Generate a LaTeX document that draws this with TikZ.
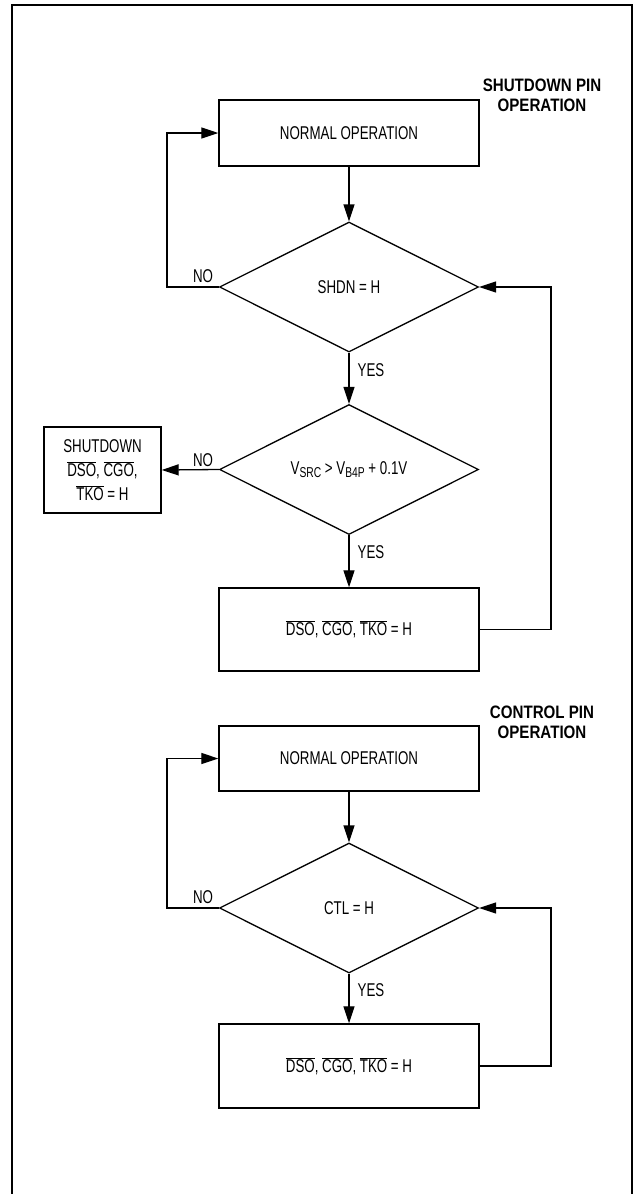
\documentclass[tikz,border=0pt]{standalone}
\usepackage{fontspec}
\setmainfont{Liberation Sans}[FakeStretch=0.72]
\newfontfamily\titlefont{Liberation Sans}[FakeStretch=0.84]
\usetikzlibrary{shapes.geometric,arrows.meta}
\newcommand\ovl[1]{$\overline{\hbox{#1}}$}
\newcommand\mysub[1]{\raisebox{-0.13em}{\fontsize{14.3}{14.3}\selectfont #1}}
\begin{document}
\begin{tikzpicture}[x=1pt,y=-1pt,
  every node/.style={font=\fontsize{18.5}{24}\selectfont, inner sep=0pt},
  proc/.style={draw, line width=1.4pt, minimum width=260pt, align=center},
  dec/.style={draw, diamond, line width=1.3pt, minimum width=259pt, minimum height=130pt},
  arr/.style={-{Triangle[length=17pt,width=11pt]}, line width=1.3pt},
  ttl/.style={font=\titlefont\bfseries\fontsize{18}{20}\selectfont, align=center}]
\useasboundingbox (0,0) rectangle (644,1194);
\draw[line width=2pt] (12,1210) -- (12,5) -- (632,5) -- (632,1210);

\coordinate (lx) at (167,0);
\coordinate (rx) at (551,0);

% Shutdown pin operation
\node[ttl] (t1) at (542,95) {SHUTDOWN PIN\\OPERATION};
\node[proc, minimum height=66pt] (b1) at (349,133) {NORMAL OPERATION};
\node[dec] (d1) at (349,287) {\makebox[0pt]{SHDN = H}};
\node[dec] (d2) at (349,469.5) {\makebox[0pt]{V\mysub{SRC} > V\mysub{B4P} + 0.1V}};
\node[proc, minimum width=117pt, minimum height=86pt] (sd) at (102.5,470) {SHUTDOWN\\\ovl{DSO}, \ovl{CGO},\\\ovl{TKO} = H};
\node[proc, minimum height=83pt] (b3) at (349,629.5) {\ovl{DSO}, \ovl{CGO}, \ovl{TKO} = H};

\node (no1) at (203,276) {NO};
\node (yes1) at (371,370) {YES};
\node (no2) at (203,460) {NO};
\node (yes2) at (371,552) {YES};

\draw[arr] (b1.south) -- (d1.north);
\draw[arr] (d1.west) -- (d1.west -| lx) |- (b1.west);
\draw[arr] (d1.south) -- (d2.north);
\draw[arr] (d2.west) -- (sd.east);
\draw[arr] (d2.south) -- (b3.north);
\draw[arr] (b3.east) -| (rx |- d1.east) -- (d1.east);

% Control pin operation
\node[ttl] (t2) at (542,722) {CONTROL PIN\\OPERATION};
\node[proc, minimum height=65pt] (b4) at (349,758.5) {NORMAL OPERATION};
\node[dec] (d3) at (349,908) {\makebox[0pt]{CTL = H}};
\node[proc, minimum height=84pt] (b5) at (349,1066) {\ovl{DSO}, \ovl{CGO}, \ovl{TKO} = H};

\node (no3) at (203,897) {NO};
\node (yes3) at (371,990) {YES};

\draw[arr] (b4.south) -- (d3.north);
\draw[arr] (d3.west) -- (d3.west -| lx) |- (b4.west);
\draw[arr] (d3.south) -- (b5.north);
\draw[arr] (b5.east) -| (rx |- d3.east) -- (d3.east);
\end{tikzpicture}
\end{document}
